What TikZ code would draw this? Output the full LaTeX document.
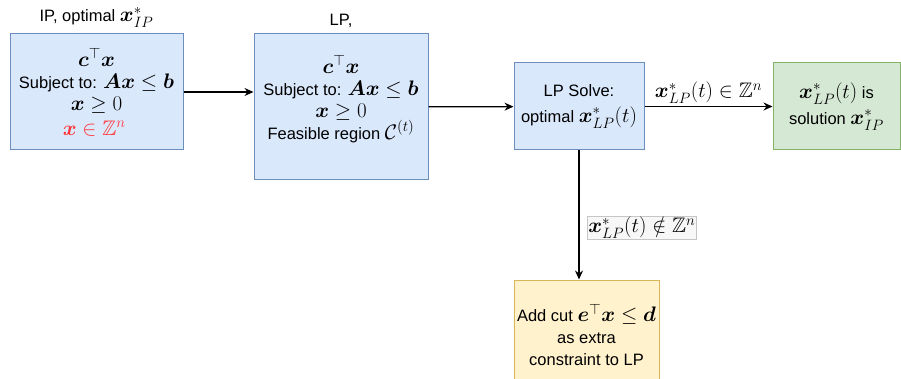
\RequirePackage{fix-cm}
\documentclass[tikz,border=0pt]{standalone}
\usepackage{amsmath,amssymb,bm}
\usepackage{fontspec}
\setmainfont{Liberation Sans}
\DeclareMathSizes{16.5}{21}{15}{11}
\usetikzlibrary{positioning,arrows.meta}
\definecolor{blueFill}{HTML}{DAE8FC}
\definecolor{blueLine}{HTML}{6C8EBF}
\definecolor{greenFill}{HTML}{D5E8D4}
\definecolor{greenLine}{HTML}{82B366}
\definecolor{yellowFill}{HTML}{FFF2CC}
\definecolor{yellowLine}{HTML}{D6B656}
\definecolor{redText}{HTML}{FF3333}

\begin{document}
\begin{tikzpicture}[
	x=1pt, y=-1pt,
	every node/.style={font=\fontsize{16.5}{22}\selectfont},
	box/.style = {
		draw, line width=1pt,
		align=center,
		inner sep=0pt,
	},
	bluebox/.style = {box, fill=blueFill, draw=blueLine},
	flow/.style = {line width=1.2pt, -{Stealth[length=9pt,width=8pt]}},
	label distance=2pt
]
\useasboundingbox (0,0) rectangle (901,379);

% IP box
\node [
	bluebox,
	minimum width=173pt,
	minimum height=116pt,
	label=above:{IP, optimal $\bm{x}^*_{IP}$},
] (ip) at (96.5,92) {
	$\bm{c}^\top\bm{x}$\\
	Subject to: $\bm{A}\bm{x}\le\bm{b}$\\
	$\bm{x}\ge 0$\\[3pt]
	\color{redText}$\bm{x}\in\mathbb{Z}^n$
};

% LP box
\node [
	bluebox,
	minimum width=174pt,
	minimum height=146pt,
	label=above:{LP,},
] (lp) at (341,107) {
	$\bm{c}^\top\bm{x}$\\
	Subject to: $\bm{A}\bm{x}\le\bm{b}$\\
	$\bm{x}\ge 0$\\
	Feasible region $\mathcal{C}^{(t)}$\\[-3pt]
};

% solver
\node [
	bluebox,
	minimum width=130pt,
	minimum height=87pt,
] (solve) at (579,106.5) {
	LP Solve:\\[4pt]
	optimal $\bm{x}^*_{LP}(t)$
};

% integer solution found
\node [
	box, fill=greenFill, draw=greenLine,
	minimum width=127pt,
	minimum height=87pt,
] (done) at (836.5,106.5) {
	$\bm{x}^*_{LP}(t)$ is\\[4pt]
	solution $\bm{x}^*_{IP}$
};

% cutting plane
\node [
	box, fill=yellowFill, draw=yellowLine,
	minimum width=145pt,
	minimum height=110pt,
] (cut) at (586.5,335) {
	Add cut $\bm{e}^\top\bm{x}\le\bm{d}$\\
	as extra\\
	constraint to LP
};

% Connections
\draw[flow] (ip.east) -- (ip.east -| lp.west);
\draw[flow] (lp) -- (solve);
\draw[flow] (solve) -- node[above, inner sep=2pt] (yes) {$\bm{x}^*_{LP}(t)\in\mathbb{Z}^n$} (done);
\draw[flow] (solve.south) -- node[
	pos=0.6, right=8pt, draw=gray!45, fill=gray!6, inner sep=1pt,
	line width=0.6pt,
] (no) {$\bm{x}^*_{LP}(t)\notin\mathbb{Z}^n$} (solve.south |- cut.north);

\end{tikzpicture}
\end{document}
